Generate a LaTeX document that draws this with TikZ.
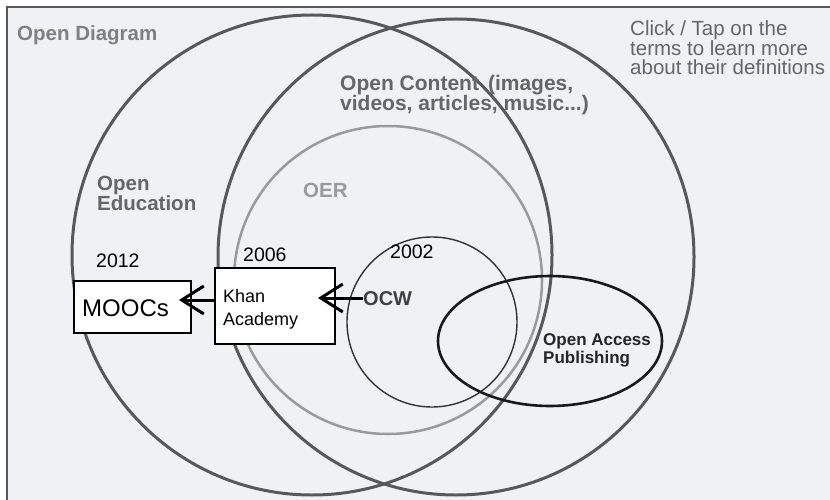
\documentclass[tikz,border=0pt]{standalone}
\usepackage{fontspec}
\setmainfont{Liberation Sans}
\usetikzlibrary{arrows.meta,shapes.geometric}
\definecolor{bgc}{HTML}{F0F1F3}
\definecolor{ringc}{HTML}{585858}
\definecolor{oerc}{HTML}{9A9A9A}
\definecolor{lblc}{HTML}{666666}
\tikzset{
  ring/.style={draw=ringc, line width=3pt, circle, inner sep=0pt, minimum size=#1},
  lbl/.style={anchor=base west, inner sep=0pt, text=lblc, font=\bfseries\fontsize{20.5}{20}\selectfont, align=left},
  yr/.style={anchor=base west, inner sep=0pt, text=black, font=\fontsize{19.5}{19}\selectfont},
  boxn/.style={draw=black, line width=1.5pt, fill=white, inner sep=0pt},
  arr/.style={line width=3pt, black, -{Straight Barb[length=22pt,width=28pt,line width=3pt]}},
}
\begin{document}
\begin{tikzpicture}[x=1pt,y=-1pt]
\useasboundingbox (0,0) rectangle (830,500);
\fill[bgc] (7,7) rectangle (830,500);
\draw[ringc, line width=1.5pt] (830,7) -- (7,7) -- (7,500);
% circles
\node[ring=480pt] (oedu) at (312,255) {};
\node[ring=476pt] (ocont) at (456,257) {};
\node[circle, draw=oerc, line width=2.5pt, inner sep=0pt, minimum size=308pt] (oer) at (388,280) {};
\node[circle, draw=black!80, line width=1.4pt, inner sep=0pt, minimum size=170pt] (ocwc) at (432,322) {};
\node[ellipse, draw=black!90, line width=2.6pt, inner sep=0pt, minimum width=224pt, minimum height=130pt] (oap) at (550,341) {};
% labels (multi-line nodes: base = last line's baseline)
\node[lbl, text=black!50] (tdiag) at (17,41) {Open Diagram};
\node[lbl] (tedu) at (97,210) {Open\\Education};
\node[lbl, text=oerc] (toer) at (303,197) {OER};
\node[lbl, font=\bfseries\fontsize{21}{20}\selectfont] (tcont) at (340,111) {Open Content\hspace{9pt}(images,\\videos, articles, music...)};
\node[anchor=base west, inner sep=0pt, text=lblc, font=\fontsize{20.5}{19}\selectfont, align=left] (tclick) at (630,75) {Click / Tap on the\\terms to learn more\\about their definitions};
\node[lbl, text=black!85, font=\bfseries\fontsize{17}{18}\selectfont] (toap) at (543,363) {Open Access\\Publishing};
% years
\node[yr] (y12) at (96,267) {2012};
\node[yr] (y06) at (243,261) {2006};
\node[yr] (y02) at (390,258) {2002};
% boxes
\path[boxn] (74,281) rectangle (191,333);
\path[boxn] (215,268) rectangle (335,344);
\node[boxn, draw=none, fill=none, minimum width=117pt, minimum height=52pt] (mooc) at (132.5,307) {};
\node[boxn, draw=none, fill=none, minimum width=120pt, minimum height=76pt] (khan) at (275,306) {};
\node[anchor=base west, inner sep=0pt, font=\fontsize{24}{24}\selectfont] (tmooc) at (82,316) {MOOCs};
\node[anchor=base west, inner sep=0pt, align=left, font=\fontsize{18}{23}\selectfont] (tkhan) at (223,325) {Khan\\Academy};
\node[anchor=base west, inner sep=0pt, text=black!75, font=\bfseries\fontsize{20}{20}\selectfont] (tocw) at (363,305) {OCW};
% arrows
\coordinate (tipk) at (318,298);
\coordinate (tipm) at (179,300);
\coordinate (kstart) at (215,300);
\draw[arr] (tocw.west |- tipk) -- (tipk);
\draw[arr] (kstart) -- (tipm);
\end{tikzpicture}
\end{document}
